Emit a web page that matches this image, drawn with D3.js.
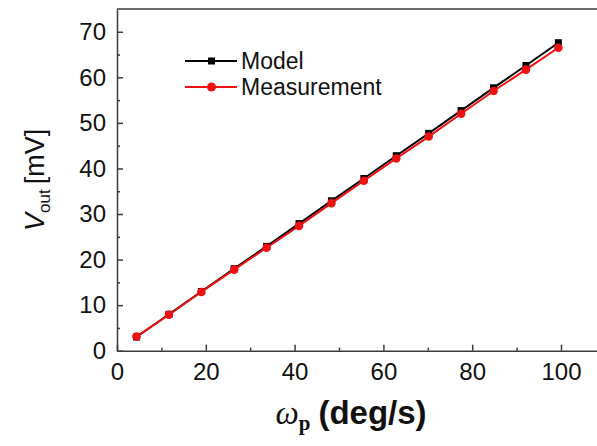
<!DOCTYPE html>
<html>
<head>
<meta charset="utf-8">
<script src="https://cdn.jsdelivr.net/npm/d3@7"></script>
<style>
  body { margin: 0; background: #fff; }
  svg { display: block; font-family: "Liberation Sans", Arial, sans-serif; }
</style>
</head>
<body>
<div id="chart"></div>
<script>
// Data
// ================================
var omega = [4.4, 11.7, 19.0, 26.4, 33.7, 41.0, 48.3, 55.6, 62.9, 70.2, 77.5, 84.8, 92.1, 99.4];
var model = [3.0, 8.0, 13.0, 18.0, 22.9, 27.9, 32.9, 37.8, 42.8, 47.7, 52.7, 57.7, 62.6, 67.6];
var measurement = [3.1, 7.9, 12.9, 17.8, 22.6, 27.4, 32.4, 37.3, 42.2, 47.0, 52.0, 57.0, 61.7, 66.5];
var xTicks = [0, 20, 40, 60, 80, 100];
var yTicks = [0, 10, 20, 30, 40, 50, 60, 70];

// Set up chart
// ================================
var svgWidth = 597;
var svgHeight = 446;

var margin = { top: 9, left: 117 };
var plotBottom = 350.7;
var plotRight = 605.4; // the right frame sits just past the picture edge

var svg = d3.select("#chart")
  .append("svg")
  .attr("width", svgWidth)
  .attr("height", svgHeight);

var x = d3.scaleLinear().domain([0, 110]).range([margin.left, plotRight]);
var y = d3.scaleLinear().domain([0, 75]).range([plotBottom, margin.top]);

var axisColor = "#3a3a3a";

// frame (top and right)
svg.append("path")
  .attr("d", `M${margin.left},${margin.top}H${plotRight}V${plotBottom}`)
  .attr("fill", "none")
  .attr("stroke", axisColor)
  .attr("stroke-width", 1.5);

// minor ticks
svg.append("g")
  .attr("transform", `translate(0, ${plotBottom})`)
  .call(d3.axisBottom(x).tickValues(d3.range(10, 110, 20)).tickSize(-3).tickFormat(""))
  .call(g => g.select(".domain").remove())
  .selectAll("line").attr("stroke", axisColor).attr("stroke-width", 1.5);

svg.append("g")
  .attr("transform", `translate(${margin.left}, 0)`)
  .call(d3.axisLeft(y).tickValues(d3.range(5, 75, 10)).tickSize(-3).tickFormat(""))
  .call(g => g.select(".domain").remove())
  .selectAll("line").attr("stroke", axisColor).attr("stroke-width", 1.5);

// x axis
var xAxis = svg.append("g")
  .attr("transform", `translate(0, ${plotBottom})`)
  .call(d3.axisBottom(x).tickValues(xTicks).tickSizeInner(-6).tickSizeOuter(0).tickPadding(12));

// y axis
var yAxis = svg.append("g")
  .attr("transform", `translate(${margin.left}, 0)`)
  .call(d3.axisLeft(y).tickValues(yTicks).tickSizeInner(-6).tickSizeOuter(0).tickPadding(11));

[xAxis, yAxis].forEach(function (g) {
  g.select(".domain").attr("stroke", axisColor).attr("stroke-width", 1.5);
  g.selectAll(".tick line").attr("stroke", axisColor).attr("stroke-width", 1.5);
  g.selectAll(".tick text")
    .attr("fill", "#111")
    .style("font-size", "24px")
    .style("font-family", "Liberation Sans, Arial, sans-serif");
});

// series
var modelData = omega.map((w, i) => ({ x: w, y: model[i] }));
var measData = omega.map((w, i) => ({ x: w, y: measurement[i] }));

var line = d3.line().x(d => x(d.x)).y(d => y(d.y));

svg.append("path")
  .datum(modelData)
  .attr("d", line)
  .attr("fill", "none")
  .attr("stroke", "#000")
  .attr("stroke-width", 2);

svg.selectAll("rect.model")
  .data(modelData)
  .enter()
  .append("rect")
  .classed("model", true)
  .attr("x", d => x(d.x) - 3.5)
  .attr("y", d => y(d.y) - 3.5)
  .attr("width", 7)
  .attr("height", 7)
  .attr("fill", "#000");

svg.append("path")
  .datum(measData)
  .attr("d", line)
  .attr("fill", "none")
  .attr("stroke", "#ee1111")
  .attr("stroke-width", 2);

svg.selectAll("circle.meas")
  .data(measData)
  .enter()
  .append("circle")
  .classed("meas", true)
  .attr("cx", d => x(d.x))
  .attr("cy", d => y(d.y))
  .attr("r", 4.3)
  .attr("fill", "#ee1111");

// legend
var legend = svg.append("g");

legend.append("line")
  .attr("x1", 185).attr("x2", 237).attr("y1", 61).attr("y2", 61)
  .attr("stroke", "#000").attr("stroke-width", 2);
legend.append("rect")
  .attr("x", 208).attr("y", 57.5).attr("width", 7).attr("height", 7)
  .attr("fill", "#000");
legend.append("text")
  .attr("x", 241).attr("y", 69)
  .style("font-size", "23px")
  .attr("fill", "#111")
  .text("Model");

legend.append("line")
  .attr("x1", 185).attr("x2", 237).attr("y1", 87).attr("y2", 87)
  .attr("stroke", "#ee1111").attr("stroke-width", 2);
legend.append("circle")
  .attr("cx", 211.5).attr("cy", 87).attr("r", 4.5)
  .attr("fill", "#ee1111");
legend.append("text")
  .attr("x", 241).attr("y", 95)
  .style("font-size", "23px")
  .attr("fill", "#111")
  .text("Measurement");

// x axis title
var xTitle = svg.append("text")
  .attr("x", 351)
  .attr("y", 424)
  .attr("text-anchor", "middle")
  .attr("fill", "#111");
xTitle.append("tspan")
  .style("font-family", "Liberation Serif, Times New Roman, serif")
  .style("font-style", "italic")
  .style("font-size", "33px")
  .text("ω");
xTitle.append("tspan")
  .attr("dy", 6)
  .style("font-family", "Liberation Serif, Times New Roman, serif")
  .style("font-weight", "bold")
  .style("font-size", "21px")
  .text("p");
xTitle.append("tspan")
  .attr("dy", -6)
  .attr("dx", 8)
  .style("font-weight", "bold")
  .style("font-size", "33px")
  .text("(deg/s)");

// y axis title
var yTitle = svg.append("text")
  .attr("transform", `translate(44, ${(margin.top + plotBottom) / 2}) rotate(-90)`)
  .attr("text-anchor", "middle")
  .attr("fill", "#111")
  .style("font-size", "27px");
yTitle.append("tspan")
  .style("font-style", "italic")
  .text("V");
yTitle.append("tspan")
  .attr("dy", 6)
  .style("font-size", "17px")
  .text("out");
yTitle.append("tspan")
  .attr("dy", -6)
  .attr("dx", 5)
  .text("[mV]");
</script>
</body>
</html>
